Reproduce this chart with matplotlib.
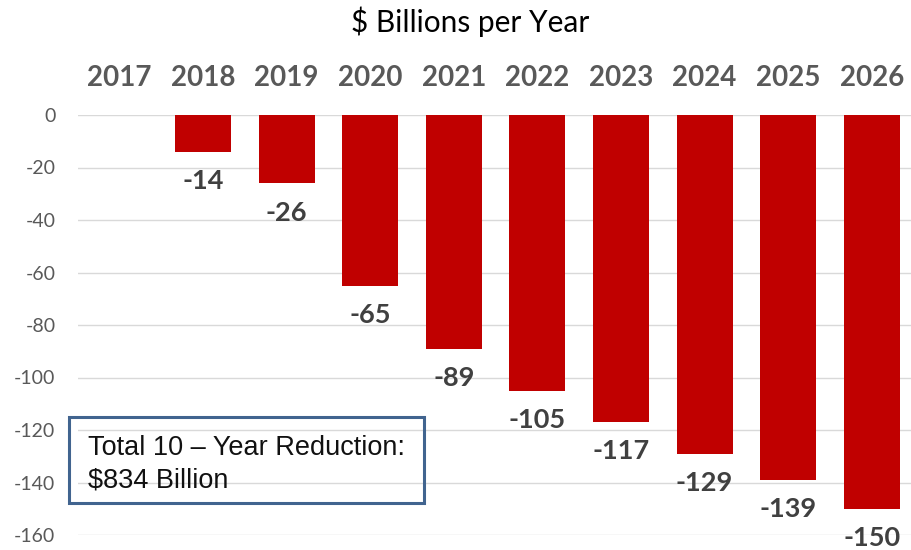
import matplotlib
matplotlib.use("Agg")
import matplotlib.pyplot as plt
from matplotlib.patches import Rectangle

years = ["2017", "2018", "2019", "2020", "2021", "2022", "2023", "2024", "2025", "2026"]
reduction = [0, -14, -26, -65, -89, -105, -117, -129, -139, -150]
y_ticks = [0, -20, -40, -60, -80, -100, -120, -140, -160]
title = "$ Billions per Year"
box_lines = ["Total 10 \u2013 Year Reduction:", "$834 Billion"]

plt.rcParams["font.family"] = ["Lato", "DejaVu Sans"]

W, H = 911, 550
fig = plt.figure(figsize=(W / 100, H / 100), dpi=100)
# axes placed in pixel terms: left edge ~77, top at y=115, bottom at y=535
ax = fig.add_axes([77.6 / W, (H - 535) / H, (W - 77.6) / W, 420 / H])

x = list(range(len(years)))
ax.bar(x, reduction, width=0.67, color="#C00000", zorder=3)

for i, v in enumerate(reduction):
    if v == 0:
        continue
    ax.annotate(str(v), (i, v), xytext=(0, -12.5), textcoords="offset points",
                ha="center", va="top", fontsize=19.5, fontweight="bold",
                color="#404040", annotation_clip=False)

ax.set_xlim(-0.5, -0.5 + (W - 77.6) / 83.6)
ax.set_ylim(-160, 0)
ax.set_yticks(y_ticks)
ax.set_yticklabels([str(t) for t in y_ticks])
ax.tick_params(axis="y", length=0, pad=16, labelsize=14, labelcolor="#595959")

ax.xaxis.tick_top()
ax.set_xticks(x)
ax.set_xticklabels(years)
ax.tick_params(axis="x", length=0, pad=17, labelsize=20, labelcolor="#595959")
for lab in ax.get_xticklabels():
    lab.set_fontweight("bold")

ax.grid(axis="y", color="#D9D9D9", linewidth=1, zorder=0)
for s in ax.spines.values():
    s.set_visible(False)

fig.text(470.5 / W, 1 - 22 / H, title, ha="center", va="center", fontsize=21.5,
         color="#000000")

fig.add_artist(Rectangle((69 / W, (H - 503) / H), 355 / W, 86 / H,
                         transform=fig.transFigure, fill=False,
                         edgecolor="#41648F", linewidth=2.2, zorder=5))
fig.text(88 / W, 1 - 455 / H, box_lines[0], ha="left", va="baseline",
         fontsize=19.5, family="Liberation Sans", color="#111111")
fig.text(88 / W, 1 - 487 / H, box_lines[1], ha="left", va="baseline",
         fontsize=19.5, family="Liberation Sans", color="#111111")

fig.savefig("out.png", dpi=100)
